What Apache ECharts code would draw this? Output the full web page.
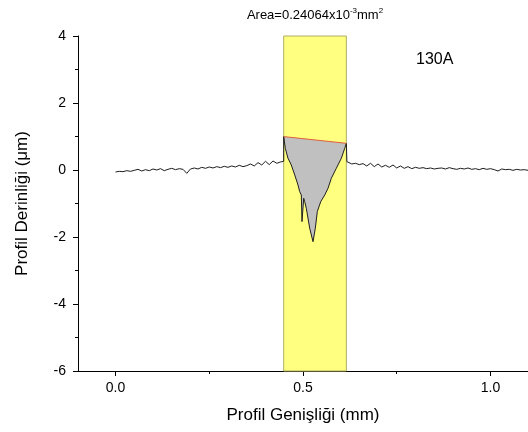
<!DOCTYPE html>
<html>
<head>
<meta charset="utf-8">
<script src="https://cdn.jsdelivr.net/npm/echarts@6/dist/echarts.min.js"></script>
<style>
  html, body { margin: 0; padding: 0; background: #fff; }
  #chart { width: 528px; height: 432px; }
</style>
</head>
<body>
<div id="chart"></div>
<script>
// Surface profile left of the measured window: [width mm, depth µm]
const baselineLeft = [
  [0.00,-0.06],[0.01,-0.04],[0.02,-0.05],[0.03,-0.02],[0.04,-0.04],[0.05,-0.01],
  [0.06,0.02],[0.07,-0.03],[0.08,0.01],[0.09,-0.02],[0.10,0.03],[0.11,0.00],
  [0.12,0.04],[0.13,-0.02],[0.14,0.02],[0.15,0.05],[0.16,0.01],[0.17,0.04],
  [0.18,0.02],[0.19,-0.10],[0.20,0.03],[0.21,0.06],[0.22,0.03],[0.23,0.08],
  [0.24,0.05],[0.25,0.09],[0.26,0.06],[0.27,0.10],[0.28,0.07],[0.29,0.11],
  [0.30,0.08],[0.31,0.12],[0.32,0.09],[0.33,0.14],[0.34,0.10],[0.35,0.13],
  [0.36,0.18],[0.37,0.12],[0.38,0.22],[0.39,0.15],[0.40,0.26],[0.41,0.16],
  [0.42,0.27],[0.43,0.20],[0.44,0.24],[0.4485,0.26]
];

// Crater outline inside the measured window
const pitProfile = [
  [0.4485,0.997],[0.4528,0.648],[0.4600,0.349],[0.4688,0.149],[0.4780,-0.149],
  [0.4867,-0.448],[0.4912,-0.645],[0.4955,-0.746],[0.4973,-1.54],[0.5019,-0.845],
  [0.5045,-0.943],[0.5088,-1.143],[0.5179,-1.74],[0.5267,-2.14],[0.5328,-1.74],
  [0.5382,-1.24],[0.5473,-0.943],[0.5580,-0.746],[0.5667,-0.546],[0.5755,-0.248],
  [0.5889,0.051],[0.6022,0.349],[0.6113,0.648],[0.6156,0.797]
];

// Surface profile right of the measured window
const baselineRight = [
  [0.6170,0.25],[0.62,0.20],[0.63,0.18],[0.64,0.20],[0.65,0.16],[0.66,0.19],
  [0.67,0.12],[0.68,0.20],[0.69,0.10],[0.70,0.18],[0.71,0.09],[0.72,0.14],
  [0.73,0.08],[0.74,0.15],[0.75,0.06],[0.76,0.12],[0.77,0.05],[0.78,0.10],
  [0.79,0.04],[0.80,0.08],[0.81,0.05],[0.82,0.07],[0.83,0.04],[0.84,0.06],
  [0.85,0.03],[0.86,0.05],[0.87,0.06],[0.88,0.03],[0.89,0.07],[0.90,0.04],
  [0.91,0.02],[0.92,0.05],[0.93,0.03],[0.94,0.06],[0.95,0.02],[0.96,0.04],
  [0.97,0.01],[0.98,0.05],[0.99,0.02],[1.00,0.04],[1.01,0.01],[1.02,-0.03],
  [1.03,0.03],[1.04,0.01],[1.05,0.02],[1.06,-0.01],[1.07,0.02],[1.08,0.00],
  [1.09,0.01],[1.10,-0.01]
];

// Measured window (x range) and its height span
const windowX = [0.4485, 0.6156];
const windowY = [-6, 4];

// Chord closing the crater area
const chord = [pitProfile[0], pitProfile[pitProfile.length - 1]];

// Axis ticks
const xMajorTicks = [0, 0.5, 1.0];
const xMinorTicks = [0.25, 0.75];
const xRange = [-0.1, 1.1];
const yRange = [-6, 4];
const yStep = 2;

const areaLabel = '{a|Area=0.24064x10}{s|-3}{a|mm}{s|2}';
const sampleLabel = '130A';

const FONT = 'Liberation Sans, Arial, sans-serif';
const chart = echarts.init(document.getElementById('chart'));

const fullProfile = baselineLeft.concat(pitProfile, baselineRight);

const axisLineStyle = { show: true, onZero: false, lineStyle: { color: '#000', width: 1 } };

chart.setOption({
  animation: false,
  backgroundColor: '#fff',
  grid: { left: 78, right: 0, top: 36, bottom: 61, outerBoundsMode: 'none', containLabel: false },
  xAxis: [
    {
      type: 'value', min: xRange[0], max: xRange[1],
      axisLine: axisLineStyle, splitLine: { show: false },
      name: 'Profil Genişliği (mm)', nameLocation: 'middle', nameGap: 36,
      nameTextStyle: { fontFamily: FONT, fontSize: 17, color: '#000' },
      axisTick: { show: true, inside: false, length: 5, customValues: xMajorTicks, lineStyle: { color: '#000' } },
      axisLabel: { customValues: xMajorTicks, margin: 10, fontFamily: FONT, fontSize: 14, color: '#000',
        formatter: v => v.toFixed(1) }
    },
    {
      type: 'value', min: xRange[0], max: xRange[1], position: 'bottom',
      axisLine: { show: false, onZero: false }, splitLine: { show: false },
      axisTick: { show: true, inside: false, length: 3, customValues: xMinorTicks, lineStyle: { color: '#000' } },
      axisLabel: { show: false }
    }
  ],
  yAxis: {
    type: 'value', min: yRange[0], max: yRange[1], interval: yStep,
    axisLine: axisLineStyle, splitLine: { show: false },
    name: 'Profil Derinliği (μm)', nameLocation: 'middle', nameGap: 47, nameRotate: 90,
    nameTextStyle: { fontFamily: FONT, fontSize: 17, color: '#000' },
    axisTick: { show: true, inside: false, length: 5, lineStyle: { color: '#000' } },
    minorTick: { show: true, splitNumber: 2, length: 3, lineStyle: { color: '#000' } },
    axisLabel: { margin: 12, fontFamily: FONT, fontSize: 14, color: '#000' }
  },
  series: [
    {
      // measured window highlight
      type: 'line', data: [], silent: true,
      markArea: {
        silent: true,
        itemStyle: { color: '#ffff80', borderColor: '#b0ae62', borderWidth: 1 },
        data: [[{ coord: [windowX[0], windowY[1]] }, { coord: [windowX[1], windowY[0]] }]]
      },
      z: 1
    },
    {
      // shaded crater area
      type: 'custom', silent: true, z: 2,
      data: [[pitProfile[0][0], pitProfile[0][1]]],
      renderItem: (params, api) => ({
        type: 'polygon',
        shape: { points: pitProfile.map(p => api.coord(p)) },
        style: { fill: '#c0c0c0', stroke: 'none' }
      })
    },
    {
      type: 'line', data: fullProfile, showSymbol: false, z: 3,
      lineStyle: { color: '#1e1e1e', width: 1 }
    },
    {
      type: 'line', data: chord, showSymbol: false, z: 4,
      lineStyle: { color: '#e0603a', width: 1 }
    }
  ],
  graphic: [
    {
      type: 'text', x: 315, y: 14,
      style: {
        text: areaLabel, align: 'center', verticalAlign: 'middle',
        rich: {
          a: { fontFamily: FONT, fontSize: 13, color: '#000', lineHeight: 15, verticalAlign: 'bottom' },
          s: { fontFamily: FONT, fontSize: 8, color: '#000', lineHeight: 15, verticalAlign: 'top' }
        }
      }
    },
    {
      type: 'text', x: 416, y: 60,
      style: { text: sampleLabel, fontFamily: FONT, fontSize: 16, fill: '#000', verticalAlign: 'middle' }
    }
  ]
});
</script>
</body>
</html>
